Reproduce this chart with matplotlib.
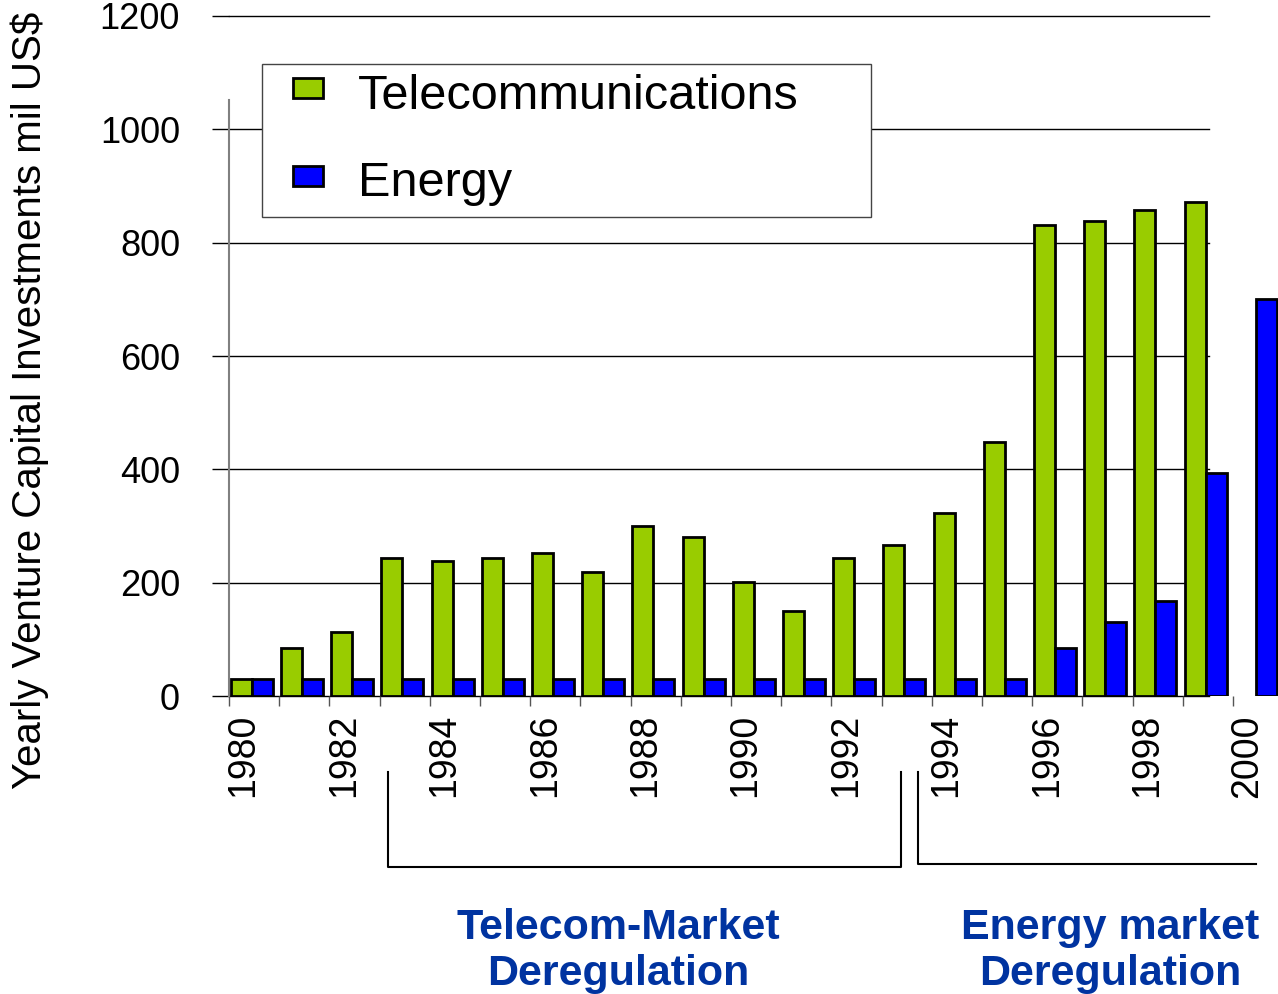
import numpy as np
import matplotlib
matplotlib.use("Agg")
import matplotlib.pyplot as plt
from matplotlib.patches import Rectangle
from matplotlib.legend_handler import HandlerPatch
from matplotlib.lines import Line2D
import matplotlib.transforms as mtransforms

plt.rcParams['font.family'] = ['Liberation Sans', 'DejaVu Sans']

# ---- data ----
telecom_years = list(range(1980, 2000))
telecom = [30, 85, 113, 244, 238, 244, 252, 219, 300, 281,
           201, 150, 244, 266, 323, 448, 831, 838, 858, 872]
energy_years = list(range(1980, 2001))
energy = [30, 30, 30, 30, 30, 30, 30, 30, 30, 30,
          30, 30, 30, 30, 30, 30, 85, 130, 168, 393, 700]
label_years = list(range(1980, 2001, 2))
y_ticks = [0, 200, 400, 600, 800, 1000, 1200]
series_names = ["Telecommunications", "Energy"]
ylabel = "Yearly Venture Capital Investments mil US$"
periods = ["Telecom-Market\nDeregulation", "Energy market\nDeregulation"]

GREEN = "#99CC00"
BLUE = "#0000FF"
NAVY = "#0033A0"

W, H = 1278, 994
fig = plt.figure(figsize=(W / 100, H / 100), dpi=100)
ax = fig.add_axes([229 / W, (H - 696) / H, 1 - 229 / W, 680 / H])

bw = 0.42
off = 0.034
bars_t = ax.bar(np.array(telecom_years) + off, telecom, width=bw, align='edge',
                color=GREEN, edgecolor='black', linewidth=2, zorder=3)
bars_e = ax.bar(np.array(energy_years) + off + bw, energy, width=bw, align='edge',
                color=BLUE, edgecolor='black', linewidth=2, zorder=3)

ax.set_xlim(1980, 1980 + (W - 229) / 50.2)
ax.set_ylim(0, 1200)

# gridlines (stop short of the right edge)
grid_end = (1209 - 229) / (W - 229)
for v in y_ticks:
    ax.axhline(v, xmin=0, xmax=grid_end, color='black', lw=1, zorder=1, clip_on=False)

ax.set_yticks(y_ticks)
ax.set_yticklabels([str(v) for v in y_ticks])
ax.tick_params(axis='y', length=12.2, width=1, color='black', pad=23, labelsize=26)

# x: minor ticks at each year, labels at even years shifted right
ax.set_xticks(np.array(label_years) + 0.29)
ax.set_xticklabels([str(y) for y in label_years], rotation=90)
ax.tick_params(axis='x', which='major', length=0, pad=13, labelsize=27)
ax.set_xticks(energy_years, minor=True)
ax.tick_params(axis='x', which='minor', length=7.2, width=1, color='#555555')

for s in ['top', 'right', 'bottom']:
    ax.spines[s].set_visible(False)
ax.spines['left'].set_bounds(0, 1052)
ax.spines['left'].set_color('#808080')
ax.spines['left'].set_linewidth(1.5)

fig.text(30 / W, (H - 400) / H, ylabel, rotation=90, ha='center', va='center', fontsize=29)


# legend with a small handle drawn at the right of the handle box
def small_rect(legend, orig_handle, xdescent, ydescent, width, height, fontsize):
    w = 0.62 * fontsize
    h = 0.41 * fontsize
    return Rectangle((-xdescent + width - w, -ydescent + (height - h) / 2 + 0.08 * fontsize), w, h)


leg = ax.legend([bars_t.patches[0], bars_e.patches[0]], series_names,
                loc='upper left',
                bbox_to_anchor=(262 / W, (H - 214) / H, (871 - 262) / W, 150 / H),
                bbox_transform=fig.transFigure, mode='expand', borderaxespad=0,
                fontsize=35, frameon=True, fancybox=False, framealpha=1,
                edgecolor='#444444', borderpad=0.21, labelspacing=0.87,
                handlelength=1.05, handleheight=0.7, handletextpad=0.72,
                handler_map={Rectangle: HandlerPatch(patch_func=small_rect)})
leg.get_frame().set_linewidth(1.0)
leg.set_zorder(5)
for p in leg.get_patches():
    p.set_linewidth(2)

# brackets below the axis
tr = mtransforms.blended_transform_factory(ax.transData, ax.transAxes)
def ypx(p):
    return (696 - p) / 680

def x_year(px):
    return 1980 + (px - 229) / 50.2

b1 = [x_year(388), x_year(900.7)]
b2 = [x_year(917.7), x_year(1256)]
ax.add_line(Line2D([b1[0], b1[0], b1[1], b1[1]], [ypx(772), ypx(867), ypx(867), ypx(772)],
                   transform=tr, color='black', lw=1.5, clip_on=False))
ax.add_line(Line2D([b2[0], b2[0], b2[1]], [ypx(772), ypx(864), ypx(864)],
                   transform=tr, color='black', lw=1.5, clip_on=False))

ax.text(x_year(618), ypx(951), periods[0], transform=tr, ha='center', va='center',
        fontsize=31, fontweight='bold', color=NAVY, linespacing=1.17)
ax.text(x_year(1110), ypx(951), periods[1], transform=tr, ha='center', va='center',
        fontsize=31, fontweight='bold', color=NAVY, linespacing=1.17)

fig.savefig("out.png", dpi=100)
